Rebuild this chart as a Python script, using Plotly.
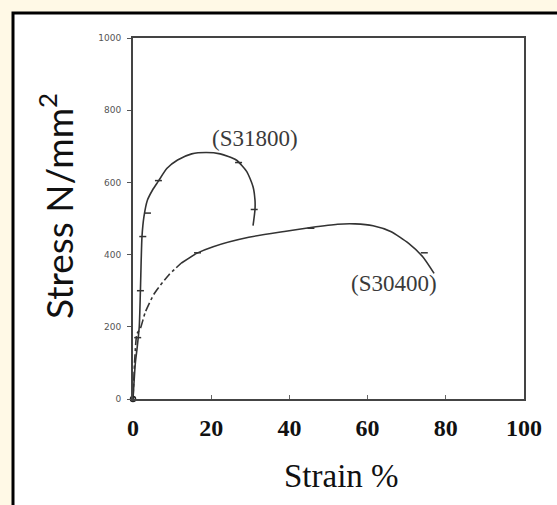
import plotly.graph_objects as go

# ---- data ----
x_ticks = [0, 20, 40, 60, 80, 100]
x_tick_labels = ["0", "20", "40", "60", "80", "100"]
y_ticks = [0, 200, 400, 600, 800, 1000]
y_tick_labels = ["0", "200", "400", "600", "800", "1000"]

s31800_strain = [0, 0.6, 1.0, 1.6, 1.9, 2.3, 2.8, 3.7, 5.0, 6.4, 8.7, 11.4, 15.0, 18.7, 22.3, 26.4, 29.1, 30.7, 31.2, 31.2, 30.7]
s31800_stress = [0, 100, 136, 200, 302, 450, 505, 551, 579, 602, 639, 662, 679, 683, 679, 662, 630, 588, 551, 525, 480]

s30400_strain_early = [0, 0.5, 1.0, 1.9, 3.2, 5.5, 9.1, 12.3]
s30400_stress_early = [0, 120, 180, 196, 242, 293, 343, 376]
s30400_strain = [12.3, 16.4, 20.5, 29.6, 38.7, 45.5, 52.3, 56.8, 61.4, 65.9, 70.5, 74.1, 77.0]
s30400_stress = [376, 404, 422, 448, 464, 475, 484, 485, 480, 464, 431, 394, 348]

s31800_mark_strain = [1.2, 1.9, 2.5, 3.7, 6.5, 27.0, 31.0]
s31800_mark_stress = [170, 300, 450, 515, 605, 655, 525]
s30400_mark_strain = [16.5, 45.5, 74.5]
s30400_mark_stress = [405, 473, 405]

label_names = ["(S31800)", "(S30400)"]
label_strain = [31.2, 66.8]
label_stress = [723, 321]

W, H = 557, 505
L, R, T, B = 133, 33, 38, 106
pw, ph = W - L - R, H - T - B

def px2paper_x(px):
    return (px - L) / pw

def py2paper_y(py):
    return (H - B - py) / ph

line_col = "#333333"
fig = go.Figure()
fig.add_trace(go.Scatter(x=s31800_strain, y=s31800_stress, mode="lines",
                         line=dict(color=line_col, width=1.6, shape="spline", smoothing=0.6),
                         showlegend=False, hoverinfo="skip"))
fig.add_trace(go.Scatter(x=s30400_strain_early, y=s30400_stress_early, mode="lines",
                         line=dict(color=line_col, width=1.6, dash="dashdot", shape="spline", smoothing=0.6),
                         showlegend=False, hoverinfo="skip"))
fig.add_trace(go.Scatter(x=s30400_strain, y=s30400_stress, mode="lines",
                         line=dict(color=line_col, width=1.6, shape="spline", smoothing=0.6),
                         showlegend=False, hoverinfo="skip"))
fig.add_trace(go.Scatter(x=s31800_mark_strain + s30400_mark_strain,
                         y=s31800_mark_stress + s30400_mark_stress, mode="markers",
                         marker=dict(symbol="line-ew", size=5, line=dict(color=line_col, width=1.5)),
                         showlegend=False, hoverinfo="skip"))
fig.add_trace(go.Scatter(x=[0], y=[0], mode="markers",
                         marker=dict(symbol="circle-open", size=5, color="#222", line=dict(width=1.5)),
                         showlegend=False, hoverinfo="skip", cliponaxis=False))

for name, xs, ys in zip(label_names, label_strain, label_stress):
    fig.add_annotation(x=xs, y=ys, text=name, showarrow=False, xanchor="center", yanchor="middle",
                       font=dict(family="Liberation Serif", size=23, color="#3a3a3a"))

fig.add_annotation(xref="paper", yref="paper", x=px2paper_x(56), y=py2paper_y(206),
                   xanchor="center", yanchor="middle",
                   text="Stress N/mm<sup>2</sup>", textangle=-90, showarrow=False,
                   font=dict(family="Lato", size=37, color="#111"))
fig.add_annotation(xref="paper", yref="paper", x=px2paper_x(341), y=py2paper_y(476),
                   xanchor="center", yanchor="middle",
                   text="Strain %", showarrow=False,
                   font=dict(family="Liberation Serif", size=33, color="#111"))

# outer frame
fig.add_shape(type="rect", xref="paper", yref="paper",
              x0=px2paper_x(13), x1=px2paper_x(600), y0=py2paper_y(600), y1=py2paper_y(13),
              line=dict(color="black", width=3), fillcolor="white", layer="below")

fig.update_xaxes(range=[0, 100], tickvals=x_ticks, ticktext=x_tick_labels,
                 showgrid=False, zeroline=False, showline=True, mirror=True,
                 linecolor="#444", linewidth=2, ticks="inside", ticklen=4, tickcolor="#666",
                 tickfont=dict(family="Liberation Serif", size=24, color="#111", weight="bold"),
                 ticklabelstandoff=6)
fig.update_yaxes(range=[0, 1000], tickvals=y_ticks, ticktext=y_tick_labels,
                 showgrid=False, zeroline=False, showline=True, mirror=True,
                 linecolor="#444", linewidth=2, ticks="outside", ticklen=4, tickcolor="#555",
                 tickfont=dict(family="DejaVu Sans", size=9, color="#555"),
                 ticklabelstandoff=4)
fig.update_layout(width=W, height=H, margin=dict(l=L, r=R, t=T, b=B, pad=0),
                  paper_bgcolor="#FFF9E6", plot_bgcolor="rgba(0,0,0,0)")
fig.write_html("out.html", config={"displayModeBar": False},
               post_script="document.body.style.margin='0';document.body.style.background='#FFF9E6';")
